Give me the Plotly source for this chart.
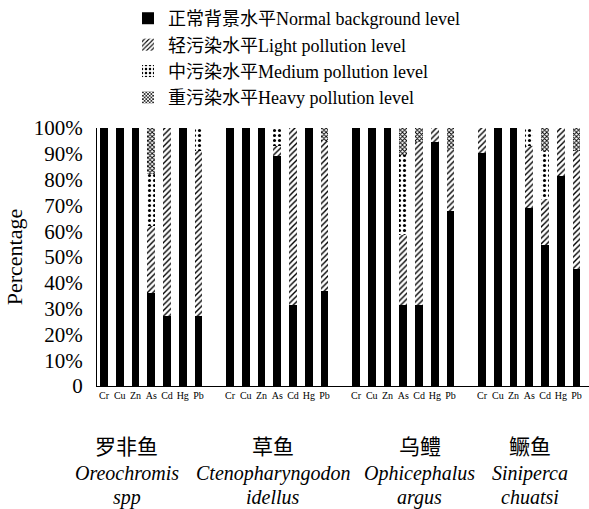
import plotly.graph_objects as go

metals = ["Cr", "Cu", "Zn", "As", "Cd", "Hg", "Pb"]
groups_cn = ["罗非鱼", "草鱼", "乌鳢", "鳜鱼"]
groups_l1 = ["Oreochromis", "Ctenopharyngodon", "Ophicephalus", "Siniperca"]
groups_l2 = ["spp", "idellus", "argus", "chuatsi"]

series_names = ["正常背景水平Normal background level",
                "轻污染水平Light pollution level",
                "中污染水平Medium pollution level",
                "重污染水平Heavy pollution level"]

normal = [100, 100, 100, 36, 27, 100, 27,
          100, 100, 100, 89, 31.5, 100, 37,
          100, 100, 100, 31.5, 31.5, 94.5, 68,
          90.5, 100, 100, 69, 54.5, 81.5, 45.5]
light = [0, 0, 0, 26, 73, 0, 64,
         0, 0, 0, 4, 68.5, 0, 58,
         0, 0, 0, 27, 63, 5.5, 24,
         9.5, 0, 0, 24, 18, 18.5, 45.5]
medium = [0, 0, 0, 20, 0, 0, 9,
          0, 0, 0, 7, 0, 0, 0,
          0, 0, 0, 31, 0, 0, 0,
          0, 0, 0, 7, 18.5, 0, 0]
heavy = [0, 0, 0, 18, 0, 0, 0,
         0, 0, 0, 0, 0, 0, 5,
         0, 0, 0, 10.5, 5.5, 0, 8,
         0, 0, 0, 0, 9, 0, 9]

yticks = [0, 10, 20, 30, 40, 50, 60, 70, 80, 90, 100]
yticktext = ["0"] + [f"{v}%" for v in yticks[1:]]

SLOT = len(metals) + 1
xpos = [g * SLOT + m for g in range(len(groups_cn)) for m in range(len(metals))]
xtext = metals * len(groups_cn)

SERIF = "Liberation Serif, Times New Roman, Noto Sans CJK SC"

patterns = [
    dict(shape="", fillmode="replace"),
    dict(shape="/", fgcolor="black", bgcolor="white", size=4, solidity=0.35, fillmode="replace"),
    dict(shape=".", fgcolor="black", bgcolor="white", size=5, solidity=0.3, fillmode="replace"),
    dict(shape="x", fgcolor="black", bgcolor="white", size=3, solidity=0.5, fillmode="replace"),
]

fig = go.Figure()
for name, vals, pat in zip(series_names, [normal, light, medium, heavy], patterns):
    fig.add_trace(go.Bar(
        x=xpos, y=vals, name=name, width=0.5,
        marker=dict(color="black" if pat["shape"] == "" else "white",
                    line=dict(width=0), pattern=pat),
    ))

# group label centre offsets (slot units relative to group start)
label_off = [1.46, 2.73, 4.06, 3.05]
annotations = []
for g in range(len(groups_cn)):
    cx = g * SLOT + label_off[g]
    annotations.append(dict(x=cx, y=0, xref="x", yref="paper", yanchor="middle",
                            yshift=-61, text=groups_cn[g], showarrow=False,
                            font=dict(family=SERIF, size=21, color="black")))
    annotations.append(dict(x=cx, y=0, xref="x", yref="paper", yanchor="middle",
                            yshift=-87, text=f"<i>{groups_l1[g]}</i>", showarrow=False,
                            font=dict(family=SERIF, size=20, color="black")))
    annotations.append(dict(x=cx, y=0, xref="x", yref="paper", yanchor="middle",
                            yshift=-111, text=f"<i>{groups_l2[g]}</i>", showarrow=False,
                            font=dict(family=SERIF, size=20, color="black")))

fig.update_layout(
    width=589, height=509,
    margin=dict(l=97, r=0, t=128, b=123),
    paper_bgcolor="white", plot_bgcolor="white",
    barmode="stack", bargap=0,
    showlegend=True,
    legend=dict(x=0.063, y=1.496, xanchor="left", yanchor="top",
                font=dict(family=SERIF, size=18, color="black"),
                bgcolor="rgba(0,0,0,0)", traceorder="normal"),
    xaxis=dict(range=[-0.444, 30.79], tickmode="array", tickvals=xpos, ticktext=xtext,
               showgrid=False, zeroline=False, showline=True, linecolor="black", linewidth=1,
               ticks="", tickangle=0, tickfont=dict(family=SERIF, size=10, color="black")),
    yaxis=dict(range=[0, 100], tickmode="array", tickvals=yticks, ticktext=yticktext,
               showgrid=False, zeroline=False, showline=True, linecolor="black", linewidth=1,
               ticks="", ticklabelstandoff=9,
               tickfont=dict(family=SERIF, size=21, color="black"),
               title=dict(text="Percentage", font=dict(family=SERIF, size=22, color="black"),
                          standoff=5)),
    annotations=annotations,
)

fig.write_html("out.html", config={"displayModeBar": False},
               post_script="document.body.style.margin='0';")
